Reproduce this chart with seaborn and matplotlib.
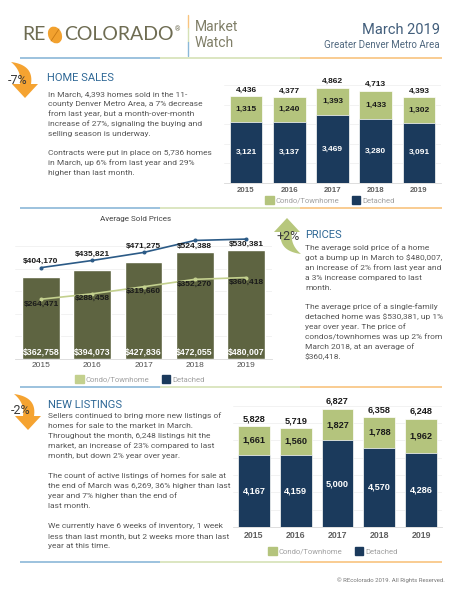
import matplotlib
matplotlib.use("Agg")
import matplotlib.pyplot as plt
import seaborn as sns
import pandas as pd
import numpy as np
from matplotlib.patches import Patch, Ellipse, Polygon

years = ["2015", "2016", "2017", "2018", "2019"]

# home sales (closed)
sales_detached = [3121, 3137, 3469, 3280, 3091]
sales_condo = [1315, 1240, 1393, 1433, 1302]

# average sold prices
price_avg = [362758, 394073, 427836, 472055, 480007]
price_detached = [404170, 435821, 471275, 524388, 530381]
price_condo = [264471, 288458, 319660, 352270, 360418]

# new listings
listings_detached = [4167, 4159, 5000, 4570, 4286]
listings_condo = [1661, 1560, 1827, 1788, 1962]

NAVY = "#1b3a5c"
CONDO = "#b4c47d"
OLIVE = "#5e6441"
LINE_DET = "#2b5a86"
LINE_CONDO = "#c3d08e"
HEAD = "#2f6896"
TXT = "#555555"
ORANGE = "#f5a331"
LEAF_GREEN = "#b7c77c"
NUM_FONT = ["Liberation Sans", "DejaVu Sans"]

sns.set_theme(style="white")
plt.rcParams["font.family"] = ["Roboto", "DejaVu Sans"]

W, H = 460, 595
fig = plt.figure(figsize=(4.6, 5.95), dpi=100)
fig.patch.set_facecolor("white")

# full-page overlay in pixel coordinates for the text and decorations
bg = fig.add_axes([0, 0, 1, 1])
bg.set_xlim(0, W)
bg.set_ylim(H, 0)
bg.axis("off")


def box(x0, y0, x1, y1):
    return [x0 / W, 1 - y1 / H, (x1 - x0) / W, (y1 - y0) / H]


def rule(y):
    bg.plot([20, 160], [y, y], color="#8bb8d8", lw=1.2, solid_capstyle="butt")
    bg.plot([160, 300], [y, y], color="#d6e1b6", lw=1.2, solid_capstyle="butt")
    bg.plot([300, 442], [y, y], color="#f8c47f", lw=1.2, solid_capstyle="butt")


def paragraph(x, y, lines, step=10, size=6):
    for i, line in enumerate(lines):
        bg.text(x, y + i * step, line, fontsize=size, color=TXT, va="center")


def bez(p0, p1, p2, n=20):
    t = np.linspace(0, 1, n)[:, None]
    return (1 - t) ** 2 * np.array(p0) + 2 * (1 - t) * t * np.array(p1) + t ** 2 * np.array(p2)


def arrow(cx, cy, color, up, label, lx, ly):
    # curved leaf-like arrow, drawn pointing down around (0, 0), then rotated for "up"
    outer = bez((-14, -18), (9, -15), (6, 4))
    inner = bez((-14, -18), (-3, -9), (-5, 4))
    head = np.array([(6, 4), (13, 4), (0, 18), (-13, 4), (-5, 4)])
    pts = np.vstack([outer, head, inner[::-1]])
    if up:
        pts = -pts
    bg.add_patch(Polygon(pts + [cx, cy], closed=True, color=color, lw=0))
    bg.text(lx, ly, label, fontsize=9, color="#3a3a3a", ha="center", va="center")


# ---- header ----
bg.text(22, 35, "RE", fontsize=14, color="#6e6c52", va="center", fontfamily="Lato")
bg.add_patch(Ellipse((55, 35), 12, 16, angle=-25, color="#f2a12e"))
bg.plot([51, 59], [41, 29], color="#c97a14", lw=0.6)
bg.text(64, 35, "COLORADO", fontsize=14, color="#6e6c52", va="center", fontfamily="Lato")
bg.text(175, 30, "®", fontsize=5, color="#6e6c52", va="center")
bg.plot([188, 188], [15, 28], color="#f8c47f", lw=1)
bg.plot([188, 188], [28, 42], color="#d6e1b6", lw=1)
bg.plot([188, 188], [42, 56], color="#8bb8d8", lw=1)
bg.text(195, 27, "Market", fontsize=10, color="#807f68", va="center")
bg.text(195, 43, "Watch", fontsize=10, color="#807f68", va="center")
bg.text(440, 30, "March 2019", fontsize=10.5, color="#435f7c", ha="right", va="center")
bg.text(440, 45, "Greater Denver Metro Area", fontsize=7, color="#50687f", ha="right", va="center")
rule(58)

# ---- home sales text ----
arrow(25, 80, ORANGE, False, "-7%", 18, 80)
bg.text(47, 78, "HOME SALES", fontsize=8, color=HEAD, va="center")
paragraph(48, 94, ["In March, 4,393 homes sold in the 11-",
                   "county Denver Metro Area, a 7% decrease",
                   "from last year, but a month-over-month",
                   "increase of 27%, signaling the buying and",
                   "selling season is underway."])
paragraph(48, 153, ["Contracts were put in place on 5,736 homes",
                    "in March, up 6% from last year and 29%",
                    "higher than last month."])


def stacked(rect, detached, condo, ymax, step, fs, legend_xy):
    ax = fig.add_axes(box(*rect))
    ax.patch.set_alpha(0)
    df = pd.DataFrame({"year": years, "Detached": detached, "Condo": condo})
    df["Total"] = df["Detached"] + df["Condo"]
    sns.barplot(data=df, x="year", y="Total", color=CONDO, saturation=1,
                width=0.76, edgecolor="white", linewidth=0.5, ax=ax)
    sns.barplot(data=df, x="year", y="Detached", color=NAVY, saturation=1,
                width=0.76, edgecolor="white", linewidth=0.5, ax=ax)
    ax.bar_label(ax.containers[0], labels=[f"{v:,}" for v in df["Total"]], padding=2,
                 fontsize=fs, fontweight="bold", color="#1a1a1a", fontfamily=NUM_FONT)
    ax.bar_label(ax.containers[1], labels=[f"{v:,}" for v in df["Detached"]], label_type="center",
                 fontsize=fs, fontweight="bold", color="white", fontfamily=NUM_FONT)
    for i, (d, c) in enumerate(zip(df["Detached"], df["Condo"])):
        ax.text(i, d + c / 2, f"{c:,}", ha="center", va="center", fontsize=fs,
                fontweight="bold", color="#1a1a1a", fontfamily=NUM_FONT)
    ax.set_ylim(0, ymax)
    ax.set_yticks(range(0, ymax + 1, step))
    ax.yaxis.grid(True, color="#f0f0f0", lw=0.6)
    ax.set_axisbelow(True)
    ax.set_yticklabels([])
    ax.tick_params(axis="y", length=0)
    ax.tick_params(axis="x", length=0, pad=3, labelsize=fs - 0.3, labelcolor="#606060")
    for t in ax.get_xticklabels():
        t.set_fontweight("bold")
        t.set_fontfamily(NUM_FONT)
    ax.set_xlabel("")
    ax.set_ylabel("")
    for s in ["top", "right", "left"]:
        ax.spines[s].set_visible(False)
    ax.spines["bottom"].set_color("#d8d8d8")
    ax.spines["bottom"].set_linewidth(0.6)
    fig.legend(handles=[Patch(color=CONDO, label="Condo/Townhome"), Patch(color=NAVY, label="Detached")],
               loc="center", bbox_to_anchor=(legend_xy[0] / W, 1 - legend_xy[1] / H), ncol=2,
               frameon=False, fontsize=5.5, labelcolor="#a0a0a0", handlelength=1.1,
               handleheight=1.1, handletextpad=0.3, columnspacing=1.6, borderpad=0)
    return ax


# ---- chart 1: home sales ----
stacked((224.4, 85.3, 440.6, 183), sales_detached, sales_condo, 5000, 1000, 6, (330, 200))
rule(208)

# ---- chart 2: prices ----
bg.text(136, 219, "Average Sold Prices", fontsize=5.8, color="#444444", ha="center", va="center")
ax2 = fig.add_axes(box(15.4, 232.4, 271.6, 359))
ax2.patch.set_alpha(0)
sns.barplot(x=years, y=price_avg, color=OLIVE, saturation=1, width=0.74, ax=ax2)
sns.pointplot(x=years, y=price_detached, color=LINE_DET, markers="o", markersize=2,
              linewidth=1.2, ax=ax2)
sns.pointplot(x=years, y=price_condo, color=LINE_CONDO, markers="o", markersize=2,
              linewidth=1.2, ax=ax2)
for i, v in enumerate(price_avg):
    ax2.annotate(f"${v:,}", (i, 0), xytext=(0, 1.5), textcoords="offset points", ha="center",
                 va="bottom", fontsize=6.3, fontweight="bold", color="white", fontfamily=NUM_FONT)
for i, v in enumerate(price_detached):
    up = i < 3
    ax2.annotate(f"${v:,}", (i, v), xytext=(0, 2 if up else -1.5), textcoords="offset points",
                 ha="center", va="bottom" if up else "top", fontsize=6, fontweight="bold",
                 color="#1a1a1a", fontfamily=NUM_FONT)
for i, v in enumerate(price_condo):
    ax2.annotate(f"${v:,}", (i, v), xytext=(0, -1), textcoords="offset points", ha="center",
                 va="top", fontsize=6, fontweight="bold", color="#1a1a1a", fontfamily=NUM_FONT)
ax2.set_ylim(0, 560000)
ax2.set_yticks(range(0, 560001, 100000))
ax2.yaxis.grid(True, color="#f0f0f0", lw=0.6)
ax2.set_axisbelow(True)
ax2.set_yticklabels([])
ax2.tick_params(axis="y", length=0)
ax2.tick_params(axis="x", length=0, pad=2, labelsize=6, labelcolor="#505050")
for t in ax2.get_xticklabels():
    t.set_fontfamily(NUM_FONT)
for s in ["top", "right", "left"]:
    ax2.spines[s].set_visible(False)
ax2.spines["bottom"].set_color("#d8d8d8")
ax2.spines["bottom"].set_linewidth(0.6)
fig.legend(handles=[Patch(color=LINE_CONDO, label="Condo/Townhome"), Patch(color=NAVY, label="Detached")],
           loc="center", bbox_to_anchor=(140 / W, 1 - 379 / H), ncol=2, frameon=False,
           fontsize=5.5, labelcolor="#a0a0a0", handlelength=1.1, handleheight=1.1,
           handletextpad=0.3, columnspacing=1.6, borderpad=0)

# ---- prices text ----
arrow(287, 236, LEAF_GREEN, True, "+2%", 288, 237)
bg.text(305, 235, "PRICES", fontsize=8, color=HEAD, va="center")
paragraph(305, 248, ["The average sold price of a home",
                     "got a bump up in March to $480,007,",
                     "an increase of 2% from last year and",
                     "a 3% increase compared to last",
                     "month."])
paragraph(305, 307, ["The average price of a single-family",
                     "detached home was $530,381, up 1%",
                     "year over year. The price of",
                     "condos/townhomes was up 2% from",
                     "March 2018, at an average of",
                     "$360,418."])
rule(387)

# ---- new listings text ----
arrow(28, 412, ORANGE, False, "-2%", 21, 410)
bg.text(48, 405, "NEW LISTINGS", fontsize=8, color=HEAD, va="center")
paragraph(48, 416, ["Sellers continued to bring more new listings of",
                    "homes for sale to the market in March.",
                    "Throughout the month, 6,248 listings hit the",
                    "market, an increase of 23% compared to last",
                    "month, but down 2% year over year."])
paragraph(48, 476, ["The count of active listings of homes for sale at",
                    "the end of March was 6,269, 36% higher than last",
                    "year and 7% higher than the end of",
                    "last month."])
paragraph(48, 526, ["We currently have 6 weeks of inventory, 1 week",
                    "less than last month, but 2 weeks more than last",
                    "year at this time."])

# ---- chart 3: new listings ----
stacked((233.1, 405.7, 441.9, 527), listings_detached, listings_condo, 7000, 1000, 6.6, (333, 551))
rule(562)

bg.text(445, 580, "© REcolorado 2019. All Rights Reserved.", fontsize=4.3, color="#777777",
        ha="right", va="center")

fig.savefig("out.png", dpi=100, facecolor="white")
